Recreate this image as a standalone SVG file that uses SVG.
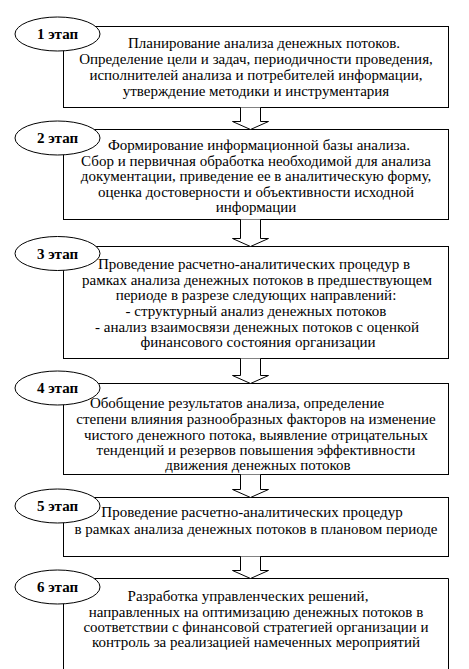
<svg xmlns="http://www.w3.org/2000/svg" width="469" height="669" viewBox="0 0 469 669">
<style>
.box{fill:#fff;stroke:#000;stroke-width:1}
.oval{fill:#fff;stroke:#000;stroke-width:1}
.lbl{font-family:'Liberation Serif','DejaVu Serif',serif;font-size:15px;font-weight:bold;text-anchor:middle;fill:#000}
.txt{font-family:'Liberation Serif','DejaVu Serif',serif;font-size:15px;text-anchor:middle;fill:#000}
.arr{fill:#fff;stroke:#000;stroke-width:1}
</style>
<rect width="469" height="669" fill="#fff"/>
<g id="stage1">
<rect class="box" x="63.5" y="26.5" width="385" height="81"/>
<ellipse class="oval" cx="57.5" cy="34" rx="42.5" ry="17"/>
<text class="lbl" x="57.5" y="39">1 этап</text>
<text class="txt" x="264" y="47.5">Планирование анализа денежных потоков.</text>
<text class="txt" x="256" y="63.5">Определение цели и задач, периодичности проведения,</text>
<text class="txt" x="256" y="79.5">исполнителей анализа и потребителей информации,</text>
<text class="txt" x="256" y="95.5">утверждение методики и инструментария</text>
</g>
<g id="stage2">
<rect class="box" x="63.5" y="129.5" width="385" height="90"/>
<ellipse class="oval" cx="57.5" cy="138" rx="42.5" ry="17"/>
<text class="lbl" x="57.5" y="143">2 этап</text>
<text class="txt" x="259" y="149.5">Формирование информационной базы анализа.</text>
<text class="txt" x="256" y="165.5">Сбор и первичная обработка необходимой для анализа</text>
<text class="txt" x="256" y="181">документации, приведение ее в аналитическую форму,</text>
<text class="txt" x="256" y="196.5">оценка достоверности и объективности исходной</text>
<text class="txt" x="256" y="212">информации</text>
</g>
<g id="stage3">
<rect class="box" x="63.5" y="246.5" width="385" height="112"/>
<ellipse class="oval" cx="57.5" cy="253.5" rx="42.5" ry="17"/>
<text class="lbl" x="57.5" y="258.5">3 этап</text>
<text class="txt" x="254" y="268.5">Проведение расчетно-аналитических процедур в</text>
<text class="txt" x="257" y="284.5">рамках анализа денежных потоков в предшествующем</text>
<text class="txt" x="256" y="300">периоде в разрезе следующих направлений:</text>
<text class="txt" x="256" y="316">- структурный анализ денежных потоков</text>
<text class="txt" x="257" y="331.5">- анализ взаимосвязи денежных потоков с оценкой</text>
<text class="txt" x="258" y="347">финансового состояния организации</text>
</g>
<g id="stage4">
<rect class="box" x="63.5" y="383.5" width="385" height="91"/>
<ellipse class="oval" cx="57.5" cy="388" rx="42.5" ry="17"/>
<text class="lbl" x="57.5" y="393">4 этап</text>
<text class="txt" x="237" y="407.5">Обобщение результатов анализа, определение</text>
<text class="txt" x="256" y="424">степени влияния разнообразных факторов на изменение</text>
<text class="txt" x="256" y="439.5">чистого денежного потока, выявление отрицательных</text>
<text class="txt" x="256" y="454.5">тенденций и резервов повышения эффективности</text>
<text class="txt" x="258" y="469.5">движения денежных потоков</text>
</g>
<g id="stage5">
<rect class="box" x="63.5" y="497.5" width="385" height="59"/>
<ellipse class="oval" cx="57.5" cy="506" rx="42.5" ry="17"/>
<text class="lbl" x="57.5" y="511">5 этап</text>
<text class="txt" x="252" y="516.5">Проведение расчетно-аналитических процедур</text>
<text class="txt" x="256" y="533.5">в рамках анализа денежных потоков в плановом периоде</text>
</g>
<g id="stage6">
<path class="box" d="M63.5,670 V578.5 H448.5 V670"/>
<ellipse class="oval" cx="57.5" cy="587" rx="42.5" ry="17"/>
<text class="lbl" x="57.5" y="592">6 этап</text>
<text class="txt" x="248" y="600.5">Разработка управленческих решений,</text>
<text class="txt" x="256" y="616.5">направленных на оптимизацию денежных потоков в</text>
<text class="txt" x="256" y="631.5">соответствии с финансовой стратегией организации  и</text>
<text class="txt" x="256" y="646.5">контроль за реализацией намеченных мероприятий</text>
</g>
<g id="connectors">
<path class="arr" d="M240.5,107.5 V121.5 H232.5 L250.5,129.5 L268.5,121.5 H260.5 V107.5"/>
<path class="arr" d="M240.5,219.5 V238.5 H232.5 L250.5,246.5 L268.5,238.5 H260.5 V219.5"/>
<path class="arr" d="M240.5,358.5 V375.5 H232.5 L250.5,383.5 L268.5,375.5 H260.5 V358.5"/>
<path class="arr" d="M240.5,474.5 V489.5 H232.5 L250.5,497.5 L268.5,489.5 H260.5 V474.5"/>
<path class="arr" d="M240.5,556.5 V570.5 H232.5 L250.5,578.5 L268.5,570.5 H260.5 V556.5"/>
</g>
</svg>
